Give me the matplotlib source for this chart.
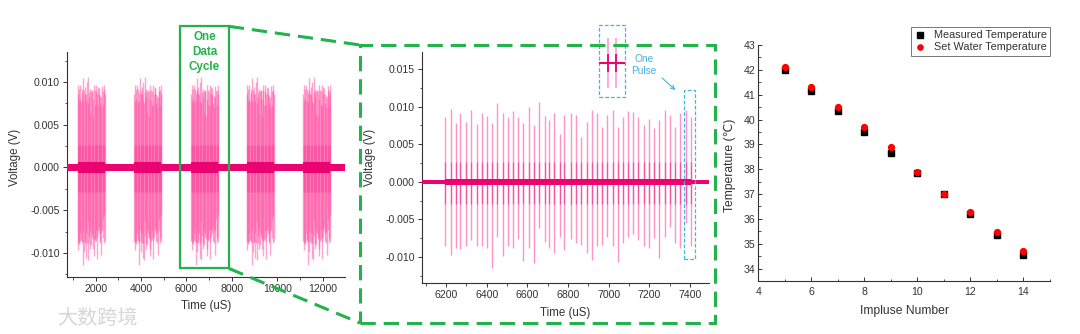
import matplotlib
matplotlib.use('Agg')
import matplotlib.pyplot as plt
from matplotlib.patches import Rectangle, FancyArrowPatch
from matplotlib.lines import Line2D
from matplotlib.ticker import MultipleLocator, FormatStrFormatter
import numpy as np

plt.rcParams['font.family'] = ['Liberation Sans', 'DejaVu Sans']

# ---------------- data ----------------
# pulse times (uS) of one data cycle, read from the zoomed (middle) panel
pulse_times = [6195, 6223, 6248, 6270, 6297, 6323, 6351, 6377, 6403, 6428,
               6452, 6479, 6503, 6528, 6554, 6580, 6608, 6634, 6659, 6684,
               6708, 6733, 6761, 6780, 6813, 6838, 6864, 6892, 6917, 6941,
               6966, 6993, 7020, 7043, 7069, 7097, 7121, 7146, 7174, 7199,
               7223, 7249, 7277, 7302, 7326, 7351, 7380, 7403]
pulse_pos = [0.0086, 0.0097, 0.0078, 0.0092, 0.0080, 0.0096, 0.0077, 0.0092, 0.0087, 0.0078,
             0.0105, 0.0091, 0.0086, 0.0094, 0.0086, 0.0078, 0.0100, 0.0075, 0.0106, 0.0088,
             0.0082, 0.0092, 0.0064, 0.0089, 0.0091, 0.0089, 0.0060, 0.0080, 0.0096, 0.0091,
             0.0073, 0.0089, 0.0096, 0.0073, 0.0086, 0.0094, 0.0093, 0.0086, 0.0075, 0.0084,
             0.0071, 0.0082, 0.0095, 0.0089, 0.0073, 0.0091, 0.0096, 0.0086]
pulse_neg = [-0.0086, -0.0097, -0.0088, -0.0089, -0.0086, -0.0077, -0.0085, -0.0086, -0.0088, -0.0114,
             -0.0073, -0.0099, -0.0086, -0.0088, -0.0076, -0.0106, -0.0088, -0.0108, -0.0062, -0.0080,
             -0.0088, -0.0095, -0.0073, -0.0091, -0.0076, -0.0081, -0.0084, -0.0095, -0.0104, -0.0086,
             -0.0084, -0.0073, -0.0086, -0.0107, -0.0081, -0.0073, -0.0069, -0.0077, -0.0086, -0.0088,
             -0.0075, -0.0102, -0.0073, -0.0060, -0.0082, -0.0088, -0.0055, -0.0086]
pulse_core = [-0.0029, 0.0026]          # darker oscillation core of each pulse (V)
burst_starts = [1200, 3690, 6195, 8650, 11140]   # start of each data cycle burst (uS)
noise_left = 0.00045                     # baseline noise level, full trace (V)
noise_left_burst = 0.0006
noise_mid = 0.0003                       # baseline noise level, zoomed trace (V)
noise_mid_burst = 0.00042
cycle_window = [5710, 7870]              # "One Data Cycle" box (uS)
pulse_window = [7372, 7425]              # "One Pulse" box (uS)
pulse_box_v = [-0.0103, 0.0122]
inset_offsets = [-8, 8]                  # single pulse close-up (uS, relative)
inset_amp = 0.0034
inset_core = 0.0012

impulse_number = [5, 6, 7, 8, 9, 10, 11, 12, 13, 14]
measured_temp = [42.0, 41.16, 40.33, 39.5, 38.67, 37.85, 37.0, 36.19, 35.34, 34.53]
set_temp = [42.1, 41.29, 40.49, 39.68, 38.89, 37.88, 37.0, 36.28, 35.49, 34.71]

# ---------------- style ----------------
W, H = 1080, 334
fig = plt.figure(figsize=(W / 100, H / 100), dpi=100)
fig.patch.set_facecolor('white')

PINK_LIGHT = '#ff4fa3'
PINK_DARK = '#ec0372'
GREEN = '#23b24b'
BLUE = '#45b3e6'
AX = '#333333'
TICK_FS = 7.6


def px_rect(x0, y0, x1, y1):
    return [x0 / W, 1 - y1 / H, (x1 - x0) / W, (y1 - y0) / H]


def style_axes(ax, direction='out'):
    for s in ['top', 'right']:
        ax.spines[s].set_visible(False)
    for s in ['left', 'bottom']:
        ax.spines[s].set_color(AX)
        ax.spines[s].set_linewidth(0.8)
    ax.tick_params(which='major', direction=direction, length=3, width=0.7,
                   colors=AX, labelsize=TICK_FS, pad=2)
    ax.tick_params(which='minor', direction=direction, length=1.8, width=0.6, colors=AX)
    ax.set_facecolor('none')


# ---------------- left panel ----------------
axl = fig.add_axes(px_rect(66.7, 52, 345, 277))
style_axes(axl)
xl0, xl1 = 720, 12990
axl.fill_between([xl0, xl1], -noise_left, noise_left, color=PINK_DARK, lw=0, zorder=3)
p0 = pulse_times[0]
for b in burst_starts:
    t = np.array(pulse_times) - p0 + b
    axl.vlines(t, pulse_neg, pulse_pos, color=PINK_LIGHT, lw=1.0, alpha=0.5, zorder=2)
    axl.vlines(t, pulse_core[0], pulse_core[1], color=PINK_DARK, lw=0.5, alpha=0.15, zorder=2)
    axl.fill_between([t[0], t[-1]], -noise_left_burst, noise_left_burst,
                     color=PINK_DARK, lw=0, zorder=3)
axl.set_xlim(xl0, xl1)
axl.set_ylim(-0.0128, 0.0135)
axl.xaxis.set_major_locator(MultipleLocator(2000))
axl.xaxis.set_minor_locator(MultipleLocator(1000))
axl.yaxis.set_major_locator(MultipleLocator(0.005))
axl.yaxis.set_minor_locator(MultipleLocator(0.0025))
axl.yaxis.set_major_formatter(FormatStrFormatter('%.3f'))
axl.set_xlabel('Time (uS)', fontsize=8.3, color=AX)
axl.set_ylabel('Voltage (V)', fontsize=8.3, color=AX)
axl.xaxis.set_label_coords(0.5, -0.128)
axl.xaxis.label.set_va('center')
axl.yaxis.set_label_coords(-0.186, 0.533)
axl.yaxis.label.set_va('center')

# "One Data Cycle" box
cyc_y = [-0.0118, 0.0165]
axl.add_patch(Rectangle((cycle_window[0], cyc_y[0]), cycle_window[1] - cycle_window[0],
                        cyc_y[1] - cyc_y[0], fill=False, ec=GREEN, lw=1.6,
                        clip_on=False, zorder=6))
axl.text(np.mean(cycle_window), 0.0135, 'One\nData\nCycle', color=GREEN,
         fontsize=8.4, fontweight='bold', ha='center', va='center', linespacing=1.3,
         zorder=7, clip_on=False)

# ---------------- middle panel ----------------
axm = fig.add_axes(px_rect(421.7, 51.7, 709, 283.3))
style_axes(axm)
xm0, xm1 = 6080, 7493
axm.fill_between([xm0, xm1], -noise_mid, noise_mid, color=PINK_DARK, lw=0, zorder=3)
axm.fill_between([pulse_times[0], pulse_times[-1]], -noise_mid_burst, noise_mid_burst,
                 color=PINK_DARK, lw=0, zorder=3)
axm.vlines(pulse_times, pulse_neg, pulse_pos, color=PINK_LIGHT, lw=1.0, alpha=0.6, zorder=2)
axm.vlines(pulse_times, pulse_core[0], pulse_core[1], color=PINK_DARK, lw=1.0, alpha=0.45, zorder=2)
axm.set_xlim(xm0, xm1)
axm.set_ylim(-0.0135, 0.0173)
axm.xaxis.set_major_locator(MultipleLocator(200))
axm.xaxis.set_minor_locator(MultipleLocator(100))
axm.yaxis.set_major_locator(MultipleLocator(0.005))
axm.yaxis.set_minor_locator(MultipleLocator(0.0025))
axm.yaxis.set_major_formatter(FormatStrFormatter('%.3f'))
axm.set_xlabel('Time (uS)', fontsize=8.3, color=AX)
axm.set_ylabel('Voltage (V)', fontsize=8.3, color=AX)
axm.xaxis.set_label_coords(0.5, -0.128)
axm.xaxis.label.set_va('center')
axm.yaxis.set_label_coords(-0.18, 0.545)
axm.yaxis.label.set_va('center')

# "One Pulse" box and label
axm.add_patch(Rectangle((pulse_window[0], pulse_box_v[0]), pulse_window[1] - pulse_window[0],
                        pulse_box_v[1] - pulse_box_v[0], fill=False, ec=BLUE, lw=0.9,
                        ls=(0, (3, 1.6)), zorder=6))
fig.text(644 / W, 1 - 65.3 / H, 'One\nPulse', color=BLUE, fontsize=7.3,
         ha='center', va='center', linespacing=1.25)
fig.add_artist(FancyArrowPatch(
    (660 / W, 1 - 76 / H), (677.5 / W, 1 - 92 / H), transform=fig.transFigure,
    arrowstyle='->', mutation_scale=7, color=BLUE, lw=0.8))

# single-pulse close-up
axi = fig.add_axes(px_rect(599.3, 25, 625, 97.3))
axi.set_axis_off()
axi.set_xlim(-25, 25)
axi.set_ylim(-0.00462, 0.0052)
axi.axhline(0, color=PINK_DARK, lw=1.5, zorder=3)
axi.vlines(inset_offsets, -inset_amp, inset_amp, color=PINK_LIGHT, lw=1.1, alpha=0.6)
axi.vlines(inset_offsets, -inset_core, inset_core, color=PINK_DARK, lw=1.3)
axi.add_patch(Rectangle((0, 0), 1, 1, transform=axi.transAxes, fill=False, ec=BLUE,
                        lw=0.9, ls=(0, (3, 1.6)), clip_on=False))

# ---------------- zoom connectors (green) ----------------
big = (360, 45, 715, 323)
fig.add_artist(Rectangle((big[0] / W, 1 - big[3] / H), (big[2] - big[0]) / W,
                         (big[3] - big[1]) / H, transform=fig.transFigure, fill=False,
                         ec=GREEN, lw=2.2, ls=(0, (5, 2.6))))
inv = fig.transFigure.inverted()
c_top = inv.transform(axl.transData.transform((cycle_window[1], cyc_y[1])))
c_bot = inv.transform(axl.transData.transform((cycle_window[1], cyc_y[0])))
for c, (bx, by) in [(c_top, (big[0], big[1])), (c_bot, (big[0], big[3]))]:
    fig.add_artist(Line2D([c[0], bx / W], [c[1], 1 - by / H], transform=fig.transFigure,
                          color=GREEN, lw=2.2, ls=(0, (5, 2.6))))

# ---------------- right panel ----------------
axr = fig.add_axes(px_rect(758.3, 45, 1050, 281))
style_axes(axr, direction='in')
axr.plot(impulse_number, measured_temp, ls='none', marker='s', ms=4.2, color='black',
         label='Measured Temperature', zorder=3)
axr.plot(impulse_number, set_temp, ls='none', marker='o', ms=4.2, color='#ff0000',
         label='Set Water Temperature', zorder=4)
axr.set_xlim(4, 15)
axr.set_ylim(33.5, 43)
axr.xaxis.set_major_locator(MultipleLocator(2))
axr.xaxis.set_minor_locator(MultipleLocator(1))
axr.yaxis.set_major_locator(MultipleLocator(1))
axr.yaxis.set_minor_locator(MultipleLocator(0.5))
axr.tick_params(axis='x', which='major', pad=4)
axr.set_xlabel('Impluse Number', fontsize=8.7, color=AX)
axr.set_ylabel('Temperature (\u2103)', fontsize=8.7, color=AX)
axr.xaxis.set_label_coords(0.5, -0.127)
axr.xaxis.label.set_va('center')
axr.yaxis.set_label_coords(-0.097, 0.49)
axr.yaxis.label.set_va('center')
leg = axr.legend(loc='upper right', bbox_to_anchor=(1.0, 1.076), borderaxespad=0,
                 fontsize=7.8, frameon=True, fancybox=False, handlelength=1.0,
                 handletextpad=0.8, borderpad=0.3, labelspacing=0.2, markerscale=0.9)
leg.get_frame().set_edgecolor('#555555')
leg.get_frame().set_linewidth(0.7)
for t in leg.get_texts():
    t.set_color(AX)

# watermark
fig.text(57 / W, 1 - 318 / H, '大数跨境', fontsize=14.5, color='#d6d6d6',
         family=['Noto Sans CJK SC', 'DejaVu Sans'], ha='left', va='center')

fig.savefig('out.png', dpi=100)
